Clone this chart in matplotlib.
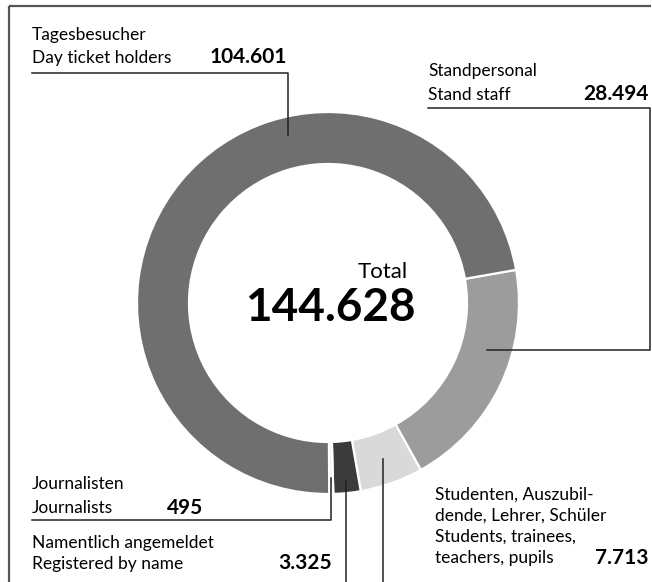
import numpy as np
import matplotlib
matplotlib.use("Agg")
import matplotlib.pyplot as plt

# visitor groups, in drawing order (clockwise from the right)
groups = ["staff", "students", "registered", "journalists", "day"]
counts = [28494, 7713, 3325, 495, 104601]
colors = ["#9c9c9c", "#d9d9d9", "#3b3b3b", "#f2f2f2", "#6f6f6f"]
count_labels = ["28.494", "7.713", "3.325", "495", "104.601"]
total_label = "144.628"

W, H = 652, 582
FONT = "Lato"
LINE = "#222222"


def Y(y):
    # pixel row -> data y
    return H - y


fig = plt.figure(figsize=(W / 100, H / 100), dpi=100)
ax = fig.add_axes([0, 0, 1, 1])

cx, cy = 328, Y(303)
r_out, ring = 191, 52
wedges, _ = ax.pie(counts, colors=colors, startangle=10, counterclock=False,
                   center=(cx, cy), radius=r_out,
                   wedgeprops=dict(width=ring, edgecolor="white", linewidth=1.6))
ax.set_xlim(0, W)
ax.set_ylim(0, H)
ax.set_aspect("equal")
ax.axis("off")

# frame: top and left edge
ax.plot([9, 651], [Y(5.5), Y(5.5)], color="#555555", lw=1.6, solid_capstyle="butt")
ax.plot([9, 9], [Y(5.5), 0], color="#555555", lw=1.6, solid_capstyle="butt")


def anchor(i, r):
    w = wedges[i]
    a = np.deg2rad((w.theta1 + w.theta2) / 2)
    return cx + r * np.cos(a), cy + r * np.sin(a)


lab = dict(fontsize=12.5, family=FONT, va="baseline")
num = dict(fontsize=15, family=FONT, weight="bold", va="baseline", ha="right")

# day ticket holders
ax.text(32, Y(40), "Tagesbesucher", **lab)
ax.text(32, Y(63), "Day ticket holders", **lab)
ax.text(287, Y(63), count_labels[4], **num)
x_day = 288
y_day = cy + np.sqrt((r_out - ring / 2 + 8) ** 2 - (x_day - cx) ** 2)
ax.plot([32, x_day, x_day], [Y(73), Y(73), y_day], color=LINE, lw=1.1)

# stand staff
ax.text(428, Y(76), "Standpersonal", **lab)
ax.text(428, Y(100), "Stand staff", **lab)
ax.text(649, Y(100), count_labels[0], **num)
ax.plot([428, 650, 650, 487], [Y(108), Y(108), Y(350), Y(350)], color=LINE, lw=1.1)

# journalists
ax.text(32, Y(489), "Journalisten", **lab)
ax.text(32, Y(513), "Journalists", **lab)
ax.text(203, Y(514), count_labels[3], **num)
xj, yj = anchor(3, 175)
ax.plot([32, xj, xj], [Y(520), Y(520), yj], color=LINE, lw=1.1)

# registered by name
ax.text(32, Y(548), "Namentlich angemeldet", **lab)
ax.text(32, Y(569), "Registered by name", **lab)
ax.text(332, Y(569), count_labels[2], **num)
xr, yr = anchor(2, 178)
ax.plot([xr, xr], [yr, 0], color=LINE, lw=1.1)

# students etc.
stud = ["Studenten, Auszubil-", "dende, Lehrer, Schüler",
        "Students, trainees,", "teachers, pupils"]
for k, s in enumerate(stud):
    ax.text(435, Y(500 + 21 * k), s, **lab)
ax.text(649, Y(564), count_labels[1], **num)
xs, ys = anchor(1, 165)
ax.plot([xs, xs], [ys, 0], color=LINE, lw=1.1)

# centre
ax.text(408, Y(278), "Total", fontsize=16, family=FONT, ha="right", va="baseline")
ax.text(330, Y(321), total_label, fontsize=33, family=FONT, weight="bold",
        ha="center", va="baseline")

fig.savefig("out.png", dpi=100)
